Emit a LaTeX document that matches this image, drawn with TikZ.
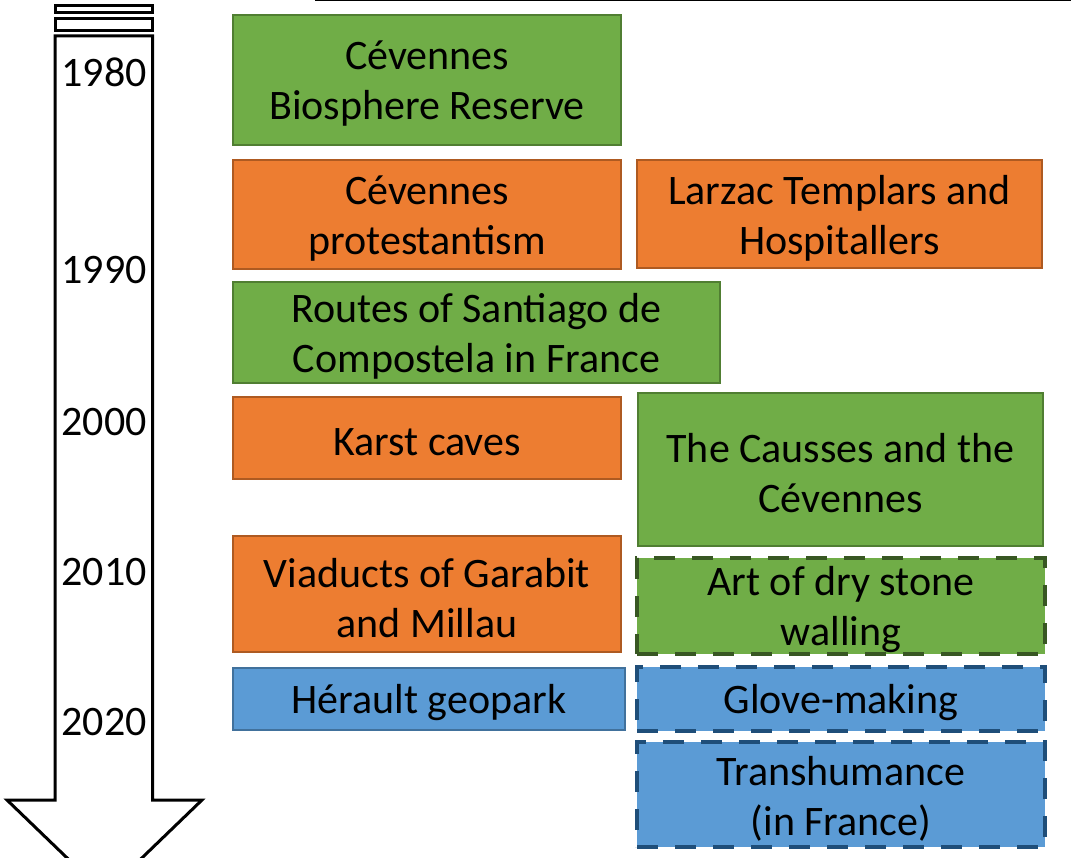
\documentclass[tikz,border=0pt]{standalone}
\usepackage{fontspec}
\setmainfont{Carlito}
\definecolor{gfill}{HTML}{70AD47}
\definecolor{gline}{HTML}{507E32}
\definecolor{gdash}{HTML}{385723}
\definecolor{ofill}{HTML}{ED7D31}
\definecolor{oline}{HTML}{AE5A21}
\definecolor{bfill}{HTML}{5B9BD5}
\definecolor{bline}{HTML}{41719C}
\definecolor{bdash}{HTML}{1F4E79}
\tikzset{
  box/.style={inner sep=0pt, line width=2pt},
  gbox/.style={box, fill=gfill, draw=gline},
  obox/.style={box, fill=ofill, draw=oline},
  bbox/.style={box, fill=bfill, draw=bline},
  gdbox/.style={box, fill=gfill, draw=gdash, line width=4.5pt, dash pattern=on 21pt off 17pt},
  bdbox/.style={box, fill=bfill, draw=bdash, line width=4.5pt, dash pattern=on 21pt off 17pt},
  boxtext/.style={inner sep=0pt, align=center, font=\fontsize{42}{50}\selectfont, yshift=-4pt},
  yearlbl/.style={inner sep=0pt, font=\fontsize{42}{50}\selectfont},
  arrowline/.style={draw=black, line width=3pt, fill=white, line join=miter}
}
\begin{document}
\begin{tikzpicture}[x=1pt,y=-1pt]
\useasboundingbox (0,0) rectangle (1071,858);
\clip (0,0) rectangle (1071,858);
% top line
\draw[line width=1.5pt] (315,0.5) -- (1071,0.5);
% striped arrow
\draw[arrowline] (55,6) rectangle (152.5,12.7);
\draw[arrowline] (55,18.3) rectangle (152.5,31);
\draw[arrowline] (55,36) -- (152.5,36) -- (152.5,800) -- (202,800) -- (104.5,894) -- (7,800) -- (55,800) -- cycle;
% years
\node[yearlbl] (y1980) at (104,72) {1980};
\node[yearlbl] (y1990) at (104,270) {1990};
\node[yearlbl] (y2000) at (104,422) {2000};
\node[yearlbl] (y2010) at (104,572) {2010};
\node[yearlbl] (y2020) at (104,722) {2020};
% boxes
\node[gbox, minimum width=388pt, minimum height=130pt] (b1) at (427,80) {};
\node[obox, minimum width=388pt, minimum height=109pt] (b2) at (427,214.5) {};
\node[obox, minimum width=405pt, minimum height=108pt] (b3) at (839.5,214) {};
\node[gbox, minimum width=487pt, minimum height=101pt] (b4) at (476.5,332.5) {};
\node[obox, minimum width=388pt, minimum height=82pt] (b5) at (427,438) {};
\node[gbox, minimum width=405pt, minimum height=153pt] (b6) at (840.5,469.5) {};
\node[obox, minimum width=388pt, minimum height=116pt] (b7) at (427,594) {};
\node[gdbox, minimum width=408pt, minimum height=96pt] (b8) at (841,606) {};
\node[bbox, minimum width=392pt, minimum height=62pt] (b9) at (429,699) {};
\node[bdbox, minimum width=408pt, minimum height=64pt] (b10) at (841,699) {};
\node[bdbox, minimum width=408pt, minimum height=105pt] (b11) at (841,794.5) {};
% texts
\node[boxtext] (t1) at (b1.center) {Cévennes\\Biosphere Reserve};
\node[boxtext] (t2) at (b2.center) {Cévennes\\protestantism};
\node[boxtext] (t3) at (b3.center) {Larzac Templars and\\Hospitallers};
\node[boxtext] (t4) at (b4.center) {Routes of Santiago de\\Compostela in France};
\node[boxtext] (t5) at (b5.center) {Karst caves};
\node[boxtext] (t6) at (b6.center) {The Causses and the\\Cévennes};
\node[boxtext] (t7) at (b7.center) {Viaducts of Garabit\\and Millau};
\node[boxtext] (t8) at (b8.center) {Art of dry stone\\walling};
\node[boxtext] (t9) at (b9.center) {Hérault geopark};
\node[boxtext] (t10) at (b10.center) {Glove-making};
\node[boxtext] (t11) at (b11.center) {Transhumance\\(in France)};
\end{tikzpicture}
\end{document}
